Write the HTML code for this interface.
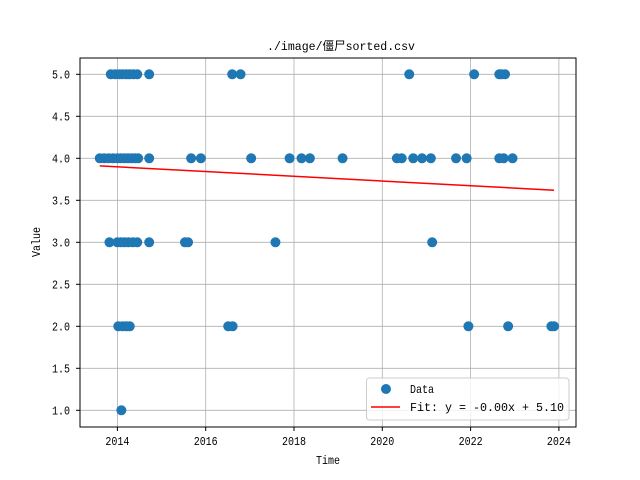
<!DOCTYPE html>
<html><head><meta charset="utf-8"><style>
body{margin:0;background:#fff}
svg{display:block;font-family:"Liberation Mono","WenQuanYi Zen Hei","Noto Sans CJK SC",monospace}
</style></head><body>
<svg id="chart" width="640" height="480" xmlns="http://www.w3.org/2000/svg">
<rect width="640" height="480" fill="#fff"/>
<text x="267" y="50" font-size="12" textLength="148" lengthAdjust="spacingAndGlyphs">./image/僵尸sorted.csv</text>
<g id="grid"></g>
<g id="pts"></g>
<g id="fit"></g>
<rect x="80" y="58" width="496" height="369" fill="none" stroke="#000" stroke-width="1"/>
<g id="ticks"></g>
<text x="316" y="464" font-size="12" textLength="24" lengthAdjust="spacingAndGlyphs">Time</text>
<text transform="translate(40,257) rotate(-90)" font-size="12" textLength="30" lengthAdjust="spacingAndGlyphs">Value</text>
<g>
<rect x="366.5" y="378" width="202.5" height="42" rx="3" fill="#fff" fill-opacity="0.8" stroke="#ccc"/>
<circle cx="386" cy="389" r="5" fill="#1f77b4"/>
<text x="410" y="393" font-size="12" textLength="24" lengthAdjust="spacingAndGlyphs">Data</text>
<line x1="371" y1="407" x2="400" y2="407" stroke="red" stroke-width="1.5"/>
<text x="410" y="411" font-size="12" textLength="154" lengthAdjust="spacingAndGlyphs">Fit: y = -0.00x + 5.10</text>
</g>
</svg>
<script>
const years5=[2013.85,2013.95,2014.05,2014.12,2014.2,2014.28,2014.36,2014.45,2014.72,2016.6,2016.79,2020.61,2022.08,2022.65,2022.7,2022.78];
const years4=[2013.6,2013.7,2013.8,2013.9,2014.0,2014.08,2014.16,2014.24,2014.32,2014.4,2014.47,2014.72,2015.67,2015.89,2017.03,2017.9,2018.17,2018.36,2019.1,2020.33,2020.44,2020.7,2020.9,2021.1,2021.67,2021.91,2022.65,2022.75,2022.95];
const years3=[2013.82,2014.0,2014.08,2014.16,2014.25,2014.35,2014.45,2014.72,2015.53,2015.6,2017.58,2021.13];
const years2=[2014.02,2014.12,2014.2,2014.28,2016.51,2016.61,2021.95,2022.85,2023.83,2023.89];
const years1=[2014.09];
const fitX=[2013.6,2023.89];
const fitY=[3.91,3.62];
const xTicks=[2014,2016,2018,2020,2022,2024];
const yTicks=[1.0,1.5,2.0,2.5,3.0,3.5,4.0,4.5,5.0];
const NS="http://www.w3.org/2000/svg";
function X(t){return 117.4+(t-2014)*44.15;}
function Y(v){return 410.3-(v-1)*84;}
function mk(tag,attrs,parent){const e=document.createElementNS(NS,tag);for(const k in attrs)e.setAttribute(k,attrs[k]);document.getElementById(parent).appendChild(e);return e;}
xTicks.forEach(t=>{
 const g=mk('line',{x1:X(t),x2:X(t),y1:58,y2:427,stroke:'#b0b0b0','stroke-width':0.8},'grid');
 
 
 mk('line',{x1:X(t),x2:X(t),y1:427,y2:431,stroke:'#000'},'ticks');
 const l=mk('text',{x:X(t)-12,y:445,'font-size':12,textLength:24,lengthAdjust:'spacingAndGlyphs'},'ticks');
 l.textContent=t;
 
 
});
yTicks.forEach(v=>{
 const g=mk('line',{x1:80,x2:576,y1:Y(v),y2:Y(v),stroke:'#b0b0b0','stroke-width':0.8},'grid');
 
 
 mk('line',{x1:76,x2:80,y1:Y(v),y2:Y(v),stroke:'#000'},'ticks');
 const l=mk('text',{x:52,y:Y(v)+4,'font-size':12,textLength:18,lengthAdjust:'spacingAndGlyphs'},'ticks');
 l.textContent=v.toFixed(1);
 
 
});
[[years5,5],[years4,4],[years3,3],[years2,2],[years1,1]].forEach(([arr,v])=>{
 arr.forEach(t=>{
  const c=mk('circle',{cx:X(t),cy:Y(v),r:5,fill:'#1f77b4'},'pts');
  
  
 });
});
const fl=mk('line',{x1:X(fitX[0]),y1:Y(fitY[0]),x2:X(fitX[1]),y2:Y(fitY[1]),stroke:'red','stroke-width':1.5},'fit');


</script>
</body></html>
